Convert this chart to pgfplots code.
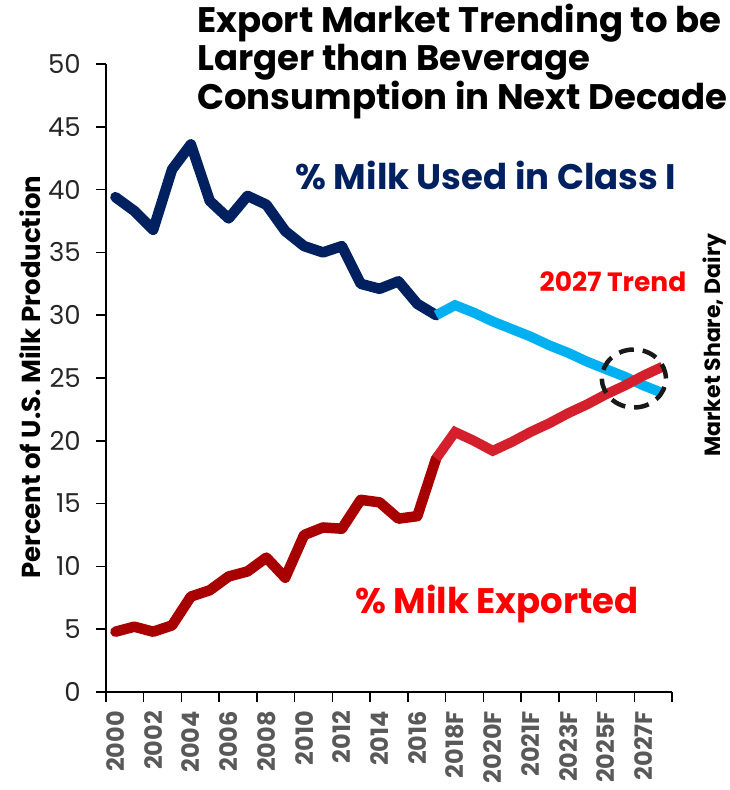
\documentclass[border=0pt]{standalone}
\usepackage{pgfplots}
\usepackage{pgfplotstable}
\pgfplotsset{compat=1.18}
\usepackage{fontspec}
\setmainfont{Poppins}
\definecolor{navy}{HTML}{002060}
\definecolor{lblue}{HTML}{00B0F0}
\definecolor{dred}{HTML}{A80000}
\definecolor{tred}{HTML}{D41F2D}
\definecolor{txtred}{HTML}{FF0000}
\definecolor{tickgray}{HTML}{595959}

\pgfplotstableread{
x y
0 39.4
1 38.3
2 36.8
3 41.6
4 43.6
5 39.1
6 37.7
7 39.5
8 38.8
9 36.7
10 35.5
11 35.0
12 35.5
13 32.5
14 32.1
15 32.7
16 30.9
17 30.0
}\classone
\pgfplotstableread{
x y
17 30.0
18 30.8
19 30.2
20 29.5
21 28.9
22 28.3
23 27.6
24 27.0
25 26.3
26 25.7
27 25.1
28 24.4
29 23.8
}\classonetrend
\pgfplotstableread{
x y
0 4.8
1 5.2
2 4.8
3 5.3
4 7.6
5 8.1
6 9.2
7 9.6
8 10.7
9 9.1
10 12.5
11 13.1
12 13.0
13 15.3
14 15.1
15 13.8
16 14.0
17 18.6
}\exported
\pgfplotstableread{
x y
17 18.6
18 20.7
19 20.0
20 19.2
21 19.9
22 20.7
23 21.4
24 22.2
25 22.9
26 23.7
27 24.4
28 25.2
29 25.9
}\exportedtrend

\begin{document}
\begin{tikzpicture}
\useasboundingbox (-106pt,-98pt) rectangle (624pt,692pt);
\begin{axis}[
  at={(0,0)}, anchor=south west,
  scale only axis, width=566pt, height=628pt,
  xmin=-0.5, xmax=29.5, ymin=0, ymax=50,
  axis lines*=left,
  axis line style={line width=1.5pt, black},
  clip=false,
  xtick={-0.5,1.5,...,29.5},
  xticklabels={},
  extra x ticks={0,2,...,28},
  extra x tick labels={2000,2002,2004,2006,2008,2010,2012,2014,2016,2018F,2020F,2021F,2023F,2025F,2027F},
  extra x tick style={major tick length=0pt},
  ytick={0,5,...,50},
  tick align=outside,
  major tick length=10pt,
  tick style={line width=1.5pt, black},
  xticklabel style={rotate=90, anchor=east, font=\bfseries\fontsize{24}{24}\selectfont, text=tickgray, inner xsep=19pt, inner ysep=0pt},
  yticklabel style={font=\fontsize{26}{26}\selectfont, text=black!85, inner xsep=15pt, inner ysep=0pt},
  /pgf/number format/assume math mode=true,
]
\addplot[navy, line width=10.5pt, line join=round, line cap=round] table[x=x,y=y]{\classone};
\addplot[dred, line width=10.5pt, line join=round, line cap=round] table[x=x,y=y]{\exported};
\addplot[lblue, line width=10pt, line join=miter, line cap=butt] table[x=x,y=y]{\classonetrend};
\addplot[tred, line width=10pt, line join=miter, line cap=butt] table[x=x,y=y]{\exportedtrend};
\draw[black!90, line width=4.5pt, dash pattern=on 15pt off 9pt] (axis cs:27.48,24.96) ellipse [x radius=32pt, y radius=29pt];
\end{axis}
\node[anchor=north west, align=left, inner sep=0pt, font=\bfseries\fontsize{35.5}{37.5}\selectfont] at (91pt,688pt) {Export Market Trending to be\\Larger than Beverage\\Consumption in Next Decade};
\node[font=\bfseries\fontsize{35.5}{35.5}\selectfont, text=navy] at (380pt,517pt) {\% Milk Used in Class I};
\node[font=\bfseries\fontsize{35.5}{35.5}\selectfont, text=txtred] at (391pt,88pt) {\% Milk Exported};
\node[font=\bfseries\fontsize{26.5}{26.5}\selectfont, text=txtred] at (507pt,410pt) {2027 Trend};
\node[rotate=90, font=\bfseries\fontsize{22}{22}\selectfont] at (609pt,347pt) {Market Share, Dairy};
\node[rotate=90, font=\bfseries\fontsize{26}{26}\selectfont] at (-76pt,315pt) {Percent of U.S. Milk Production};
\end{tikzpicture}
\end{document}
